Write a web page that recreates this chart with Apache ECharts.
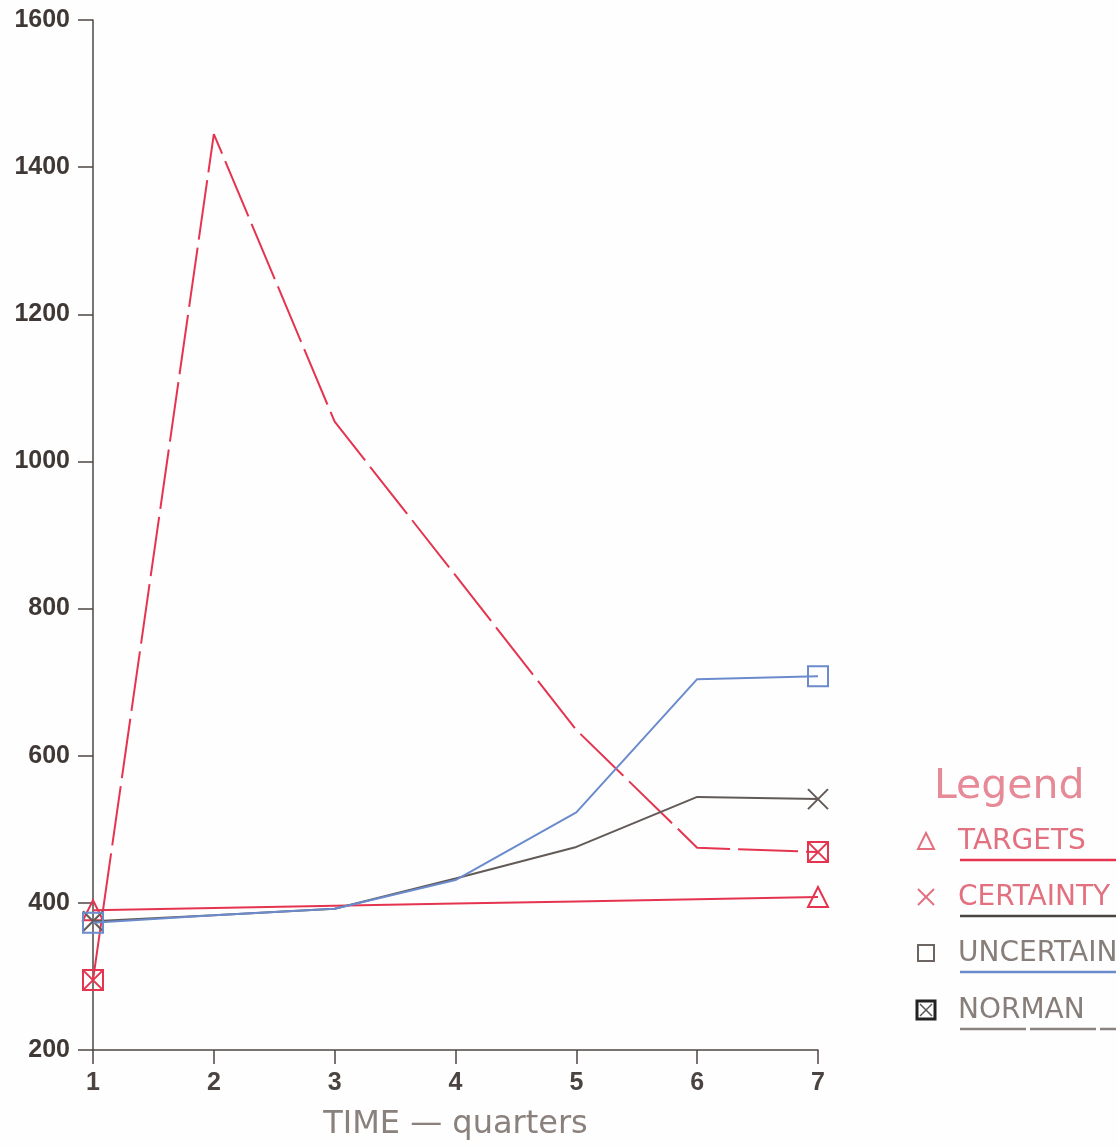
<!DOCTYPE html>
<html><head><meta charset="utf-8">
<script src="https://cdn.jsdelivr.net/npm/echarts@6/dist/echarts.min.js"></script>
<style>html,body{margin:0;padding:0;background:#fefefe}#c{width:1118px;height:1147px}</style>
</head><body><div id="c"></div>
<script>
var quarters = [1, 2, 3, 4, 5, 6, 7];
var yTicks = [200, 400, 600, 800, 1000, 1200, 1400, 1600];
var targets = [390, 393, 396, 399, 402, 405, 408];
var certainty = [375, 383, 392, 433, 476, 544, 541];
var uncertain = [373, 383, 392, 431, 523, 704, 708];
var norman = [295, 1445, 1054, 845, 635, 475, 469];
var seriesNames = ['TARGETS', 'CERTAINTY', 'UNCERTAIN', 'NORMAN'];

var RED = '#e5344f', GREY = '#625a57', BLUE = '#6b8bcc';
var crossPath = 'path://M0,0L10,10M10,0L0,10';
var boxCrossPath = 'path://M0,0L10,0L10,10L0,10Z M0,0L10,10 M10,0L0,10';
var triPath = 'path://M5,0L10,10L0,10Z';
var rectPath = 'path://M0,0L10,0L10,10L0,10Z';

function build(vals, sym, size) {
  return vals.map(function (v, i) {
    var endPt = (i === 0 || i === vals.length - 1);
    return { value: [quarters[i], v], symbol: endPt ? sym : 'none', symbolSize: endPt ? size : 0 };
  });
}
function mk(name, vals, color, sym, size, dash, z) {
  return {
    name: name, type: 'line', data: build(vals, sym, size), z: z,
    showAllSymbol: true, symbolKeepAspect: true, animation: false, silent: true,
    lineStyle: { color: color, width: 2, type: dash || 'solid' },
    itemStyle: { color: 'rgba(0,0,0,0)', borderColor: color, borderWidth: 2 }
  };
}

var chart = echarts.init(document.getElementById('c'));
var legendRows = [
  { y: 841, label: seriesNames[0], tcol: '#e2707f', scol: '#e2707f', lcol: RED, dash: null, sym: 'tri' },
  { y: 897, label: seriesNames[1], tcol: '#e2707f', scol: '#e2707f', lcol: '#4a4442', dash: null, sym: 'x' },
  { y: 953, label: seriesNames[2], tcol: '#877e79', scol: '#6d6562', lcol: BLUE, dash: null, sym: 'rect' },
  { y: 1010, label: seriesNames[3], tcol: '#877e79', scol: '#222', lcol: '#8a827e', dash: [66, 4], sym: 'box' }
];
var g = [{ type: 'text', left: 934, top: 767, style: { text: 'Legend', fill: '#e58a96', font: '41px "DejaVu Sans"' } }];
legendRows.forEach(function (r) {
  var cx = 926, cy = r.y, s = 8;
  var st = { stroke: r.scol, lineWidth: 2, fill: null };
  if (r.sym === 'tri') g.push({ type: 'polygon', shape: { points: [[cx, cy - s], [cx + s, cy + s], [cx - s, cy + s]] }, style: st });
  if (r.sym === 'x') { g.push({ type: 'line', shape: { x1: cx - s, y1: cy - s, x2: cx + s, y2: cy + s }, style: st }); g.push({ type: 'line', shape: { x1: cx + s, y1: cy - s, x2: cx - s, y2: cy + s }, style: st }); }
  if (r.sym === 'rect') g.push({ type: 'rect', shape: { x: cx - s, y: cy - s, width: 2 * s, height: 2 * s }, style: st });
  if (r.sym === 'box') {
    var st2 = { stroke: r.scol, lineWidth: 3, fill: null };
    g.push({ type: 'rect', shape: { x: cx - 9, y: cy - 9, width: 18, height: 18 }, style: st2 });
    g.push({ type: 'line', shape: { x1: cx - 6, y1: cy - 6, x2: cx + 6, y2: cy + 6 }, style: { stroke: '#555', lineWidth: 1.5 } });
    g.push({ type: 'line', shape: { x1: cx + 6, y1: cy - 6, x2: cx - 6, y2: cy + 6 }, style: { stroke: '#555', lineWidth: 1.5 } });
  }
  g.push({ type: 'text', left: 958, top: r.y - 13, style: { text: r.label, fill: r.tcol, font: '28px "DejaVu Sans"' } });
  g.push({ type: 'line', shape: { x1: 960, y1: r.y + 19, x2: 1116, y2: r.y + 19 }, style: { stroke: r.lcol, lineWidth: 2.5, lineDash: r.dash } });
});

chart.setOption({
  backgroundColor: '#fefefe',
  animation: false,
  grid: { left: 93, right: 300, top: 20, bottom: 97 },
  xAxis: {
    type: 'value', min: 1, max: 7, interval: 1,
    name: 'TIME \u2014 quarters', nameLocation: 'middle', nameGap: 59,
    nameTextStyle: { color: '#8a817d', fontSize: 32, fontFamily: 'DejaVu Sans' },
    axisLine: { show: true, onZero: false, lineStyle: { color: '#4d4744', width: 1.5 } },
    axisTick: { show: true, length: 14, lineStyle: { color: '#4d4744', width: 1.5 } },
    axisLabel: { color: '#4a4340', fontSize: 25, fontWeight: 'bold', fontFamily: 'Liberation Sans', margin: 21,
      formatter: function (v) { return quarters.indexOf(v) >= 0 ? String(v) : ''; } },
    splitLine: { show: false }
  },
  yAxis: {
    type: 'value', min: yTicks[0], max: yTicks[yTicks.length - 1], interval: 200,
    axisLine: { show: true, onZero: false, lineStyle: { color: '#4d4744', width: 1.5 } },
    axisTick: { show: true, length: 15, lineStyle: { color: '#4d4744', width: 1.5 } },
    axisLabel: { color: '#3f3835', fontSize: 25, fontWeight: 'bold', fontFamily: 'Liberation Sans', margin: 23,
      formatter: function (v) { return yTicks.indexOf(v) >= 0 ? String(v) : ''; } },
    splitLine: { show: false }
  },
  series: [
    mk(seriesNames[3], norman, RED, boxCrossPath, 20, [60, 8], 2),
    mk(seriesNames[0], targets, RED, triPath, 20, null, 3),
    mk(seriesNames[1], certainty, GREY, crossPath, 20, null, 4),
    mk(seriesNames[2], uncertain, BLUE, rectPath, 20, null, 5)
  ],
  graphic: g
});
</script></body></html>
